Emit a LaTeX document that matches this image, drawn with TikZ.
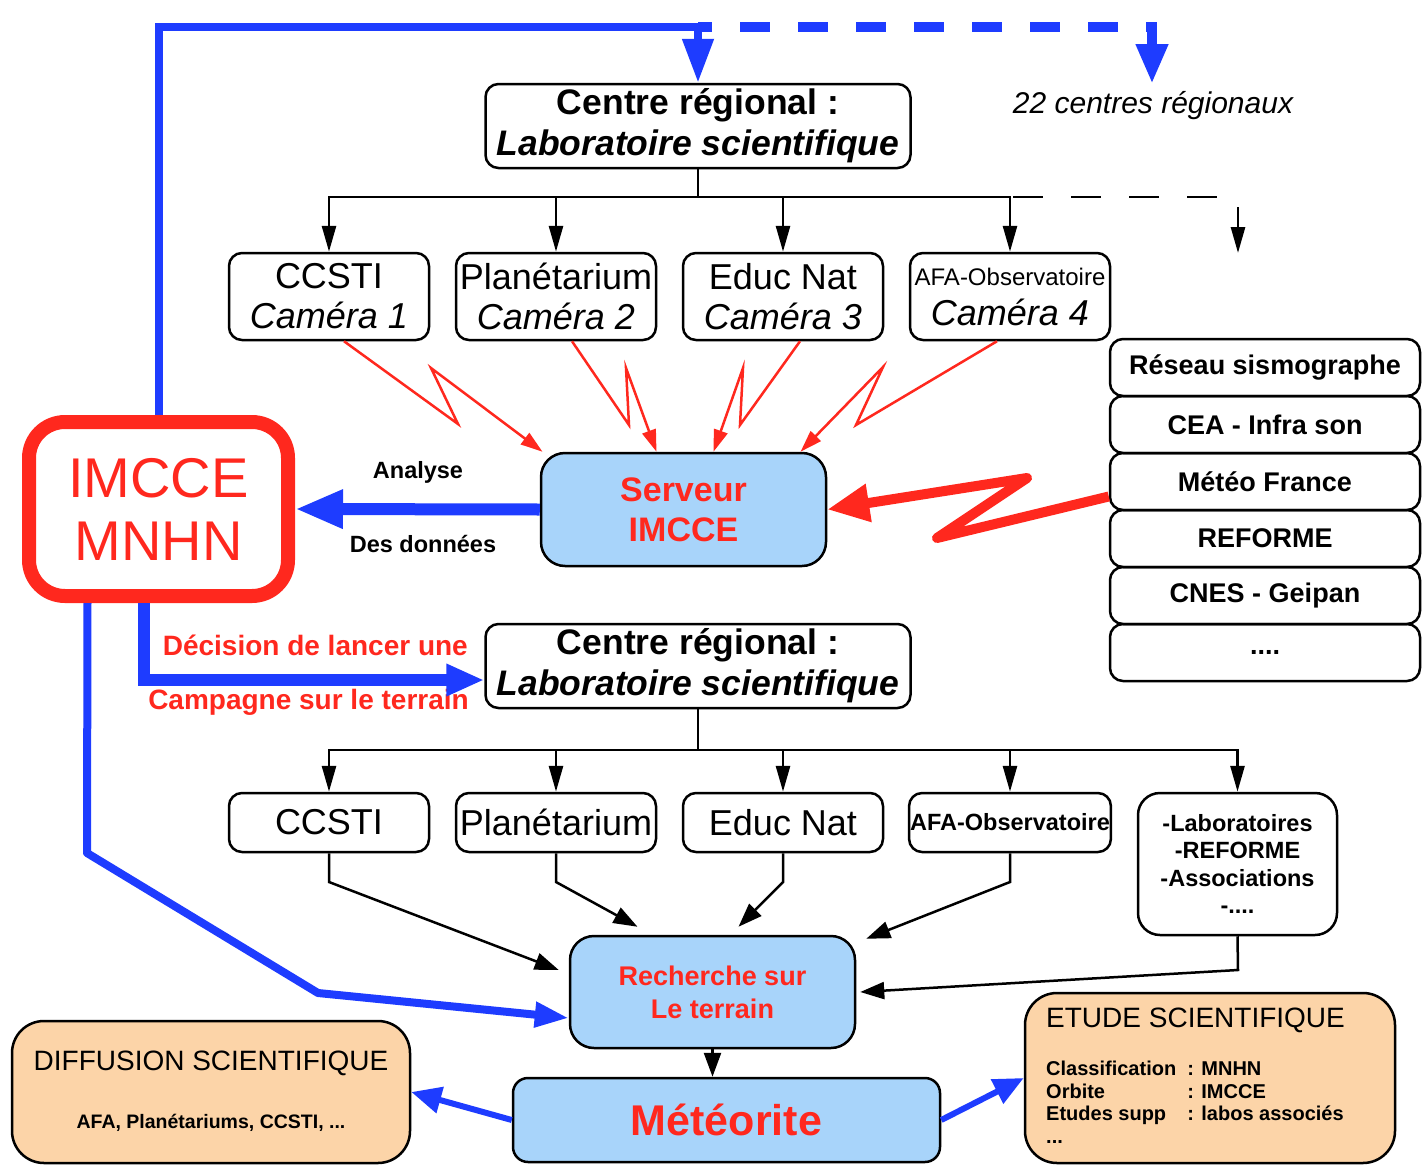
\documentclass[tikz,border=0pt]{standalone}
\usepackage{fontspec}
\setmainfont{Liberation Sans}
\usetikzlibrary{arrows.meta}
\definecolor{bl}{RGB}{30,60,255}
\definecolor{rd}{RGB}{255,40,30}
\definecolor{lb}{RGB}{168,212,250}
\definecolor{pe}{RGB}{252,212,168}
\begin{document}
\begin{tikzpicture}[x=1pt,y=-1pt,
  box/.style={draw, line width=2.5pt, rounded corners=13pt, align=center, inner sep=1pt},
  cam/.style={box, minimum width=200pt, minimum height=87pt, font=\fontsize{36}{40}\selectfont},
  cam2/.style={box, minimum width=200pt, minimum height=59pt, font=\fontsize{36}{40}\selectfont},
  centre/.style={box, minimum width=425pt, minimum height=84pt, font=\fontsize{35.5}{41}\selectfont\bfseries},
  lst/.style={box, minimum width=310pt, minimum height=57pt, font=\fontsize{27}{30}\selectfont\bfseries},
  tl/.style={line width=2.8pt, -{Triangle[length=26pt,width=14pt]}},
  tl2/.style={line width=2.5pt, -{Triangle[length=24pt,width=17pt]}},
  zap/.style={draw=rd, line width=2.5pt, -{Triangle[length=22pt,width=14pt]}, fill=none},
  lbl/.style={font=\fontsize{23.5}{26}\selectfont\bfseries, inner sep=0pt},
  rlbl/.style={font=\fontsize{28}{30}\selectfont\bfseries, text=rd, inner sep=0pt}
]
\useasboundingbox (0,0) rectangle (1422,1167);

% --- nodes ---
\node[centre] (top) at (698,126) {Centre régional :\\{\itshape Laboratoire scientifique}};
\node[cam] (c1) at (329,296.5) {CCSTI\\{\itshape Caméra 1}};
\node[cam] (c2) at (556,296.5) {Planétarium\\{\itshape Caméra 2}};
\node[cam] (c3) at (783,296.5) {Educ Nat\\{\itshape Caméra 3}};
\node[cam] (c4) at (1010,296.5) {{\fontsize{24}{26}\selectfont AFA-Observatoire}\\{\itshape Caméra 4}};

\node[box, fill=lb, rounded corners=24pt, minimum width=285pt, minimum height=113pt,
      text=rd, font=\fontsize{34}{40}\selectfont\bfseries] (srv) at (683.5,509.5) {Serveur\\IMCCE};

\node[draw=rd, line width=14pt, rounded corners=36pt, minimum width=259pt, minimum height=174pt,
      text=rd, align=center, inner sep=0pt, font=\fontsize{56}{63}\selectfont] (im) at (158.5,509) {IMCCE\\MNHN};

\node[lst] (r1) at (1265,367.5) {Réseau sismographe};
\node[lst] (r2) at (1265,424.5) {CEA - Infra son};
\node[lst] (r3) at (1265,481.5) {Météo France};
\node[lst] (r4) at (1265,538.5) {REFORME};
\node[lst] (r5) at (1265,595.5) {CNES - Geipan};
\node[lst] (r6) at (1265,652.5) {....};

\node[lbl] (an) at (418,472) {Analyse};
\node[lbl] (dd) at (423,544) {Des données};

\node[font=\fontsize{30}{32}\selectfont\itshape] (n22) at (1153,106) {22 centres régionaux};

\node[centre] (bot) at (698,666) {Centre régional :\\{\itshape Laboratoire scientifique}};
\node[rlbl, anchor=east] (dec) at (468,645) {Décision de lancer une};
\node[rlbl, anchor=east] (cam) at (469,702) {Campagne sur le terrain};

\node[cam2] (d1) at (329,822.5) {CCSTI};
\node[cam2] (d2) at (556,822.5) {Planétarium};
\node[cam2] (d3) at (783,822.5) {Educ Nat};
\node[cam2, font=\fontsize{23.5}{26}\selectfont\bfseries] (d4) at (1010,822.5) {AFA-Observatoire};
\node[box, minimum width=199pt, minimum height=142pt, rounded corners=22pt,
      font=\fontsize{23.5}{27.5}\selectfont\bfseries] (d5) at (1237.5,864) {-Laboratoires\\-REFORME\\-Associations\\-....};

\node[box, fill=lb, rounded corners=24pt, minimum width=285pt, minimum height=112pt,
      text=rd, font=\fontsize{27}{33}\selectfont\bfseries] (rech) at (712.5,992) {Recherche sur\\Le terrain};
\node[box, fill=lb, rounded corners=15pt, minimum width=427pt, minimum height=84pt,
      text=rd, font=\fontsize{43}{50}\selectfont\bfseries] (met) at (726.5,1120) {Météorite};

\node[box, fill=pe, rounded corners=32pt, minimum width=398pt, minimum height=142pt] (dif) at (211,1092) {};
\node[font=\fontsize{28}{30}\selectfont] (dift) at (211,1063) {DIFFUSION SCIENTIFIQUE};
\node[font=\fontsize{19.5}{22}\selectfont\bfseries] (difs) at (211,1123) {AFA, Planétariums, CCSTI, ...};

\node[box, fill=pe, rounded corners=32pt, minimum width=370pt, minimum height=170pt] (etu) at (1210,1078) {};
\node[font=\fontsize{28}{30}\selectfont, anchor=west, inner sep=0pt] (etut) at (1046,1020) {ETUDE SCIENTIFIQUE};
\node[font=\fontsize{20}{22.5}\selectfont\bfseries, anchor=north west, inner sep=0pt] (etus) at (1046,1060)
  {\begin{tabular}{@{}l@{\ \ }l@{}}Classification & : MNHN\\ Orbite & : IMCCE\\ Etudes supp & : labos associés\\ ... & \end{tabular}};

% --- coordinates ---
\coordinate (t1) at (698,197);
\coordinate (tl) at (698,27);
\coordinate (tr) at (1152,27);
\coordinate (c22) at (1152,84);
\coordinate (dshend) at (1220,197);
\coordinate (da1) at (1238,207);
\coordinate (da2) at (1238,253);
\coordinate (t2) at (698,750);

% --- top tree ---
\draw[line width=2.8pt] (top.south) -- (t1);
\foreach \n in {c1,c2,c3,c4} \draw[tl] (t1) -| (\n.north);
\draw[line width=2.8pt, dash pattern=on 30pt off 28pt] ([xshift=3pt]c4.north |- t1) -- (dshend);
\draw[tl] (da1) -- (da2);

% --- blue loop ---
\draw[bl, line width=8pt, -{Triangle[length=44pt,width=30pt]}] (im.north) |- (tl) -- (top.north);
\draw[bl, line width=10pt, dash pattern=on 30pt off 28pt, dash phase=16pt, -{Triangle[length=40pt,width=30pt]}] (tl) -- (tr) -- (c22);

% --- lightning camera -> server ---
\draw[zap] ([xshift=15pt]c1.south) -- (458,424) -- (431,368) -- ([xshift=-141pt]srv.north);
\draw[zap] ([xshift=16pt]c2.south) -- (629,425) -- (626,368) -- ([xshift=-27pt]srv.north);
\draw[zap] ([xshift=17pt]c3.south) -- (740,425) -- (743,368) -- ([xshift=30pt]srv.north);
\draw[zap] ([xshift=-13pt]c4.south) -- (856,425) -- (883,367) -- ([xshift=117pt]srv.north);

% --- thick lightning list -> server ---
\draw[rd, line width=10pt, line join=round, -{Triangle[length=42pt,width=36pt]}]
  ([yshift=-15pt]r3.west) -- (937,538) -- (1027,478) -- (srv.east);

% --- server -> IMCCE ---
\draw[bl, line width=12pt, -{Triangle[length=48pt,width=36pt]}] (srv.west) -- (im.east);

% --- IMCCE -> campaign ---
\draw[bl, line width=12pt, -{Triangle[length=38pt,width=30pt]}] ([xshift=-15pt]im.south) |- ([yshift=-14pt]bot.west);

% --- IMCCE -> Recherche ---
\draw[bl, line width=8pt, line join=round, -{Triangle[length=34pt,width=24pt]}]
  ([xshift=-71pt]im.south) -- (87,853) -- (318,993) -- ([yshift=-26pt]rech.west);

% --- bottom tree ---
\draw[line width=2.8pt] (bot.south) -- (t2);
\foreach \n in {d1,d2,d3,d4,d5} \draw[tl] (t2) -| (\n.north);

\draw[tl2] (d1.south) -- (329,882) -- ([xshift=-10pt,yshift=22pt]rech.west);
\draw[tl2] (d2.south) -- (556,882) -- ([xshift=-75pt,yshift=8pt]rech.north);
\draw[tl2] (d3.south) -- (783,882) -- ([xshift=26pt,yshift=8pt]rech.north);
\draw[tl2] (d4.south) -- (1010,882) -- ([xshift=10pt,yshift=-4pt]rech.north east);
\draw[tl2] (d5.south) -- (1238,970) -- ([xshift=4pt]rech.east);

\draw[tl2] (rech.south) -- (rech.south |- met.north);

% --- meteorite -> outputs ---
\draw[bl, line width=6pt, -{Triangle[length=30pt,width=26pt]}] (met.west) -- (dif.east);
\draw[bl, line width=6pt, -{Triangle[length=30pt,width=26pt]}] (met.east) -- (etu.west);
\end{tikzpicture}
\end{document}
